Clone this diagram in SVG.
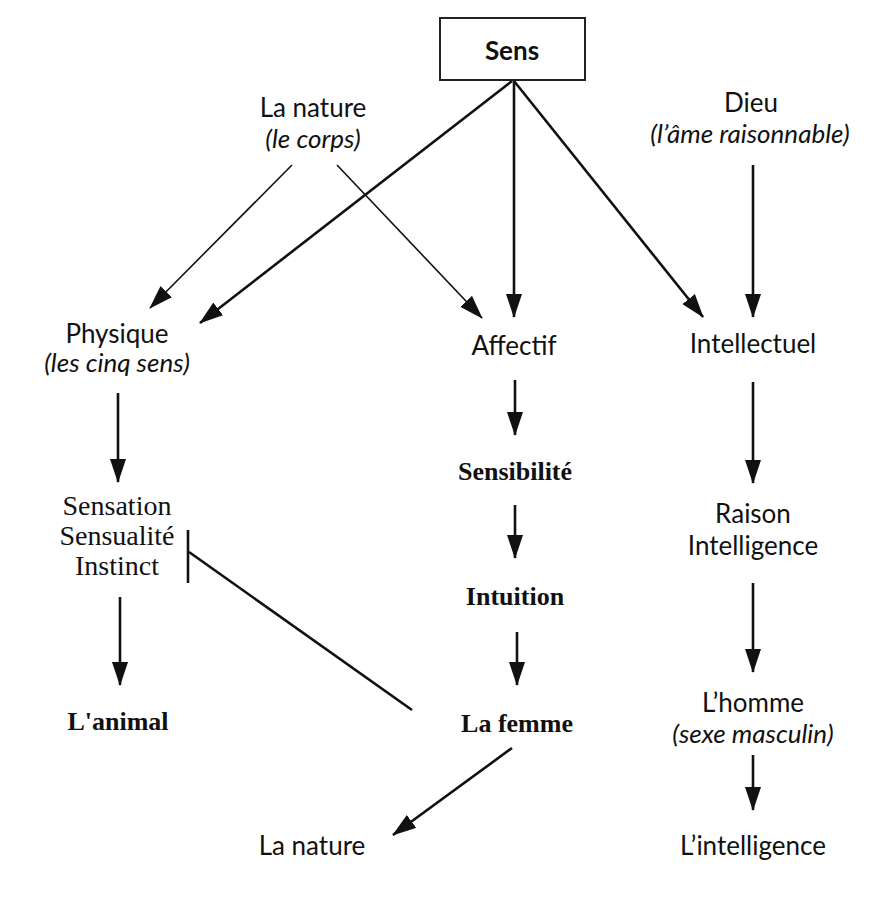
<svg xmlns="http://www.w3.org/2000/svg" width="889" height="904" viewBox="0 0 889 904">
<defs>
<marker id="ah" markerUnits="userSpaceOnUse" markerWidth="24" markerHeight="16" viewBox="0 0 24 16" refX="23" refY="8" orient="auto">
<path d="M0,0 L24,8 L0,16 z" fill="#111"/>
</marker>
</defs>
<style>
.sans{font-family:Lato,"Open Sans","Liberation Sans",sans-serif;font-size:26px;fill:#111;text-anchor:middle}
.it{font-style:italic}
.b{font-weight:bold}
.serif{font-family:"Liberation Serif","Times New Roman",serif;fill:#111;text-anchor:middle}
.rs{font-size:28px}
.bs{font-size:26px;font-weight:bold}
.thick{stroke:#111;stroke-width:2.6;fill:none}
.thin{stroke:#111;stroke-width:1.6;fill:none}
.arr{marker-end:url(#ah)}
</style>
<rect width="889" height="904" fill="#fff"/>
<g id="sens">
<rect x="440" y="18" width="145" height="62" fill="none" stroke="#222" stroke-width="2"/>
<text class="sans b" x="512" y="60" font-size="30">Sens</text>
</g>
<g id="la-nature-top">
<text class="sans" x="313" y="117">La nature</text>
<text class="sans it" x="313" y="148">(le corps)</text>
</g>
<g id="dieu">
<text class="sans" x="751" y="112">Dieu</text>
<text class="sans it" x="750" y="143">(l’âme raisonnable)</text>
</g>
<g id="physique">
<text class="sans" x="117" y="343">Physique</text>
<text class="sans it" x="117" y="372">(les cinq sens)</text>
</g>
<g id="affectif">
<text class="sans" x="514" y="355">Affectif</text>
</g>
<g id="intellectuel">
<text class="sans" x="753" y="353">Intellectuel</text>
</g>
<g id="sensation">
<text class="serif rs" x="117" y="515">Sensation</text>
<text class="serif rs" x="117" y="545">Sensualité</text>
<text class="serif rs" x="117" y="575">Instinct</text>
</g>
<g id="sensibilite">
<text class="serif bs" x="515" y="480">Sensibilité</text>
</g>
<g id="intuition">
<text class="serif bs" x="515" y="605">Intuition</text>
</g>
<g id="la-femme">
<text class="serif bs" x="517" y="732">La femme</text>
</g>
<g id="animal">
<text class="serif bs" x="118" y="730">L'animal</text>
</g>
<g id="raison">
<text class="sans" x="753" y="523">Raison</text>
<text class="sans" x="753" y="555">Intelligence</text>
</g>
<g id="homme">
<text class="sans" x="753" y="712">L’homme</text>
<text class="sans it" x="753" y="743">(sexe masculin)</text>
</g>
<g id="intelligence">
<text class="sans" x="753" y="855">L’intelligence</text>
</g>
<g id="la-nature-bottom">
<text class="sans" x="312" y="855">La nature</text>
</g>
<g id="connectors">
<line class="thick arr" x1="512" y1="81" x2="200" y2="323"/>
<line class="thick arr" x1="514" y1="81" x2="514" y2="317"/>
<line class="thick arr" x1="514" y1="81" x2="703" y2="317"/>
<line class="thick arr" x1="753" y1="165" x2="753" y2="317"/>
<line class="thin arr" x1="292" y1="165" x2="150" y2="308"/>
<line class="thin arr" x1="337" y1="165" x2="482" y2="318"/>
<line class="thick arr" x1="118" y1="393" x2="118" y2="482"/>
<line class="thick arr" x1="120" y1="597" x2="120" y2="685"/>
<line class="thick arr" x1="515" y1="380" x2="515" y2="435"/>
<line class="thick arr" x1="515" y1="505" x2="515" y2="558"/>
<line class="thick arr" x1="517" y1="632" x2="517" y2="685"/>
<line class="thick arr" x1="753" y1="382" x2="753" y2="483"/>
<line class="thick arr" x1="753" y1="583" x2="753" y2="672"/>
<line class="thick arr" x1="753" y1="755" x2="753" y2="810"/>
<line class="thick arr" x1="512" y1="748" x2="393" y2="835"/>
<line class="thick" x1="188" y1="530" x2="188" y2="583"/>
<line class="thick" x1="189" y1="552" x2="412" y2="710"/>
</g>
</svg>
